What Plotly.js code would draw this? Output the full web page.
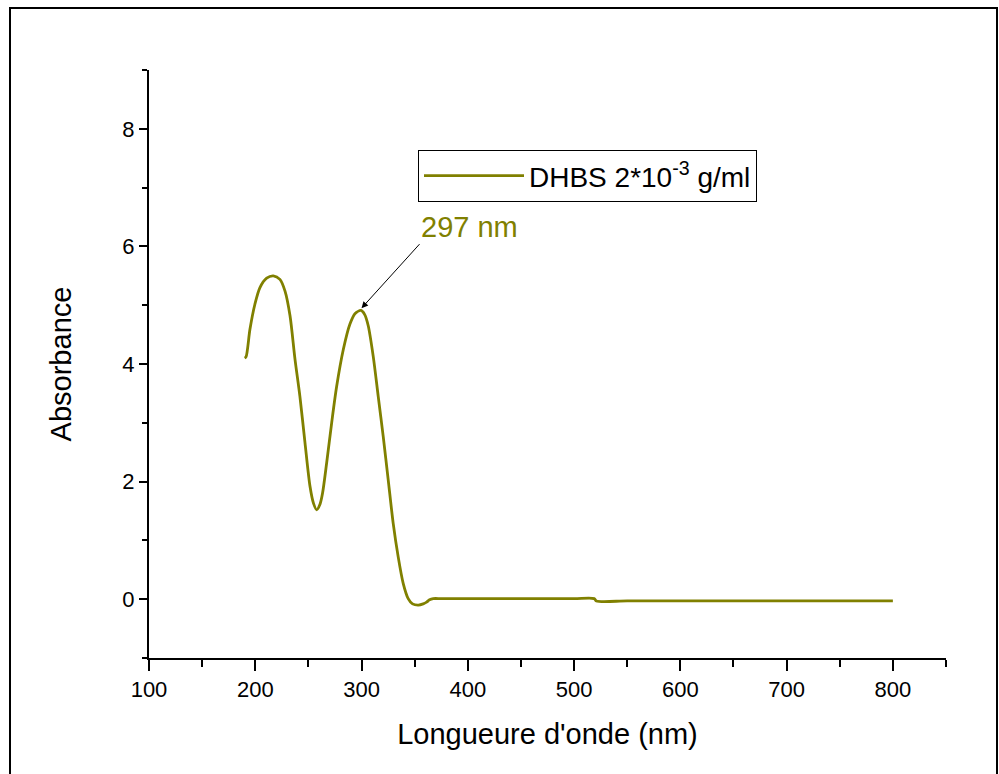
<!DOCTYPE html>
<html>
<head>
<meta charset="utf-8">
<script src="https://cdn.plot.ly/plotly-3.0.1.min.js"></script>
<style>
html,body{margin:0;padding:0;background:#fff;}
#chart{width:999px;height:774px;}
</style>
</head>
<body>
<div id="chart"></div>
<script>
const wavelength = [190,191.3,195,199.7,204.4,210.7,217,223.2,228,232.7,237.4,242,246.8,251.5,254.8,257.8,261,263.3,267.2,271.9,276.6,282.9,289.1,294,299.5,303,306.3,311,315.7,320.4,325.1,329.8,334.5,339.2,343.9,348,353.4,358,361.2,364,367.5,375,400,450,500,519,521,550,600,650,700,750,800];
const absorbance = [4.10,4.12,4.59,5.02,5.30,5.46,5.50,5.44,5.24,4.82,4.08,3.45,2.66,1.92,1.63,1.52,1.62,1.80,2.32,3.00,3.62,4.25,4.68,4.86,4.91,4.84,4.65,4.13,3.45,2.77,2.03,1.29,0.72,0.27,0.01,-0.08,-0.10,-0.08,-0.05,-0.01,0.01,0.01,0.01,0.01,0.01,0.01,-0.03,-0.03,-0.03,-0.03,-0.03,-0.03,-0.03];
const seriesName = 'DHBS 2*10<sup>-3</sup> g/ml';
const peakLabel = '297 nm';
const peakX = 300;
const peakY = 4.95;
const xTitle = "Longueure d'onde (nm)";
const yTitle = 'Absorbance';

const olive = '#808000';
const font = 'Arial, "Liberation Sans", sans-serif';

const trace = {
  x: wavelength, y: absorbance, type: 'scatter', mode: 'lines',
  name: seriesName,
  line: {color: olive, width: 2.8, shape: 'spline', smoothing: 0.8}
};

const L = 149, R = 53, T = 70, B = 116, W = 999, H = 774;
const pw = W - L - R, ph = H - T - B;
function px(p){ return (p - L) / pw; }
function py(p){ return (H - B - p) / ph; }

const layout = {
  width: W, height: H,
  margin: {l: L, r: R, t: T, b: B, pad: 0},
  paper_bgcolor: '#fff', plot_bgcolor: '#fff',
  font: {family: font, color: '#000'},
  showlegend: true,
  legend: {
    x: px(418), y: py(150), xanchor: 'left', yanchor: 'top',
    bordercolor: '#000', borderwidth: 1, bgcolor: '#fff',
    font: {size: 28, family: font, color: '#000'},
    itemwidth: 100
  },
  xaxis: {
    range: [100, 850], showgrid: false, zeroline: false,
    showline: true, linecolor: '#000', linewidth: 2,
    ticks: 'outside', ticklen: 11, tickwidth: 2, tickcolor: '#000',
    tickvals: [100,200,300,400,500,600,700,800],
    minor: {ticks: 'outside', ticklen: 7, tickwidth: 2, tickcolor: '#000', dtick: 50, showgrid: false},
    tickfont: {size: 22, family: font},
    title: {text: xTitle, font: {size: 29, family: font}, standoff: 22},
    fixedrange: true
  },
  yaxis: {
    range: [-1, 9], showgrid: false, zeroline: false,
    showline: true, linecolor: '#000', linewidth: 2,
    ticks: 'outside', ticklen: 8, tickwidth: 2, tickcolor: '#000',
    tickvals: [0,2,4,6,8],
    minor: {ticks: 'outside', ticklen: 5, tickwidth: 2, tickcolor: '#000', dtick: 1, showgrid: false},
    tickfont: {size: 22, family: font},
    title: {text: yTitle, font: {size: 29, family: font}, standoff: 42},
    fixedrange: true
  },
  annotations: [
    {x: peakX, y: peakY, xref: 'x', yref: 'y', text: peakLabel,
     showarrow: true, arrowhead: 2, arrowsize: 1.3, arrowwidth: 1, arrowcolor: '#000',
     ax: 58, ay: -64, standoff: 0, xanchor: 'left', yanchor: 'bottom', borderpad: 0,
     font: {size: 29, family: font, color: olive}}
  ],
  shapes: [
    {type: 'rect', xref: 'paper', yref: 'paper',
     x0: px(10), x1: px(997), y0: py(800), y1: py(8),
     line: {color: '#000', width: 2}, fillcolor: 'rgba(0,0,0,0)', layer: 'below'}
  ]
};

Plotly.newPlot('chart', [trace], layout, {displayModeBar: false, staticPlot: true});
</script>
</body>
</html>
